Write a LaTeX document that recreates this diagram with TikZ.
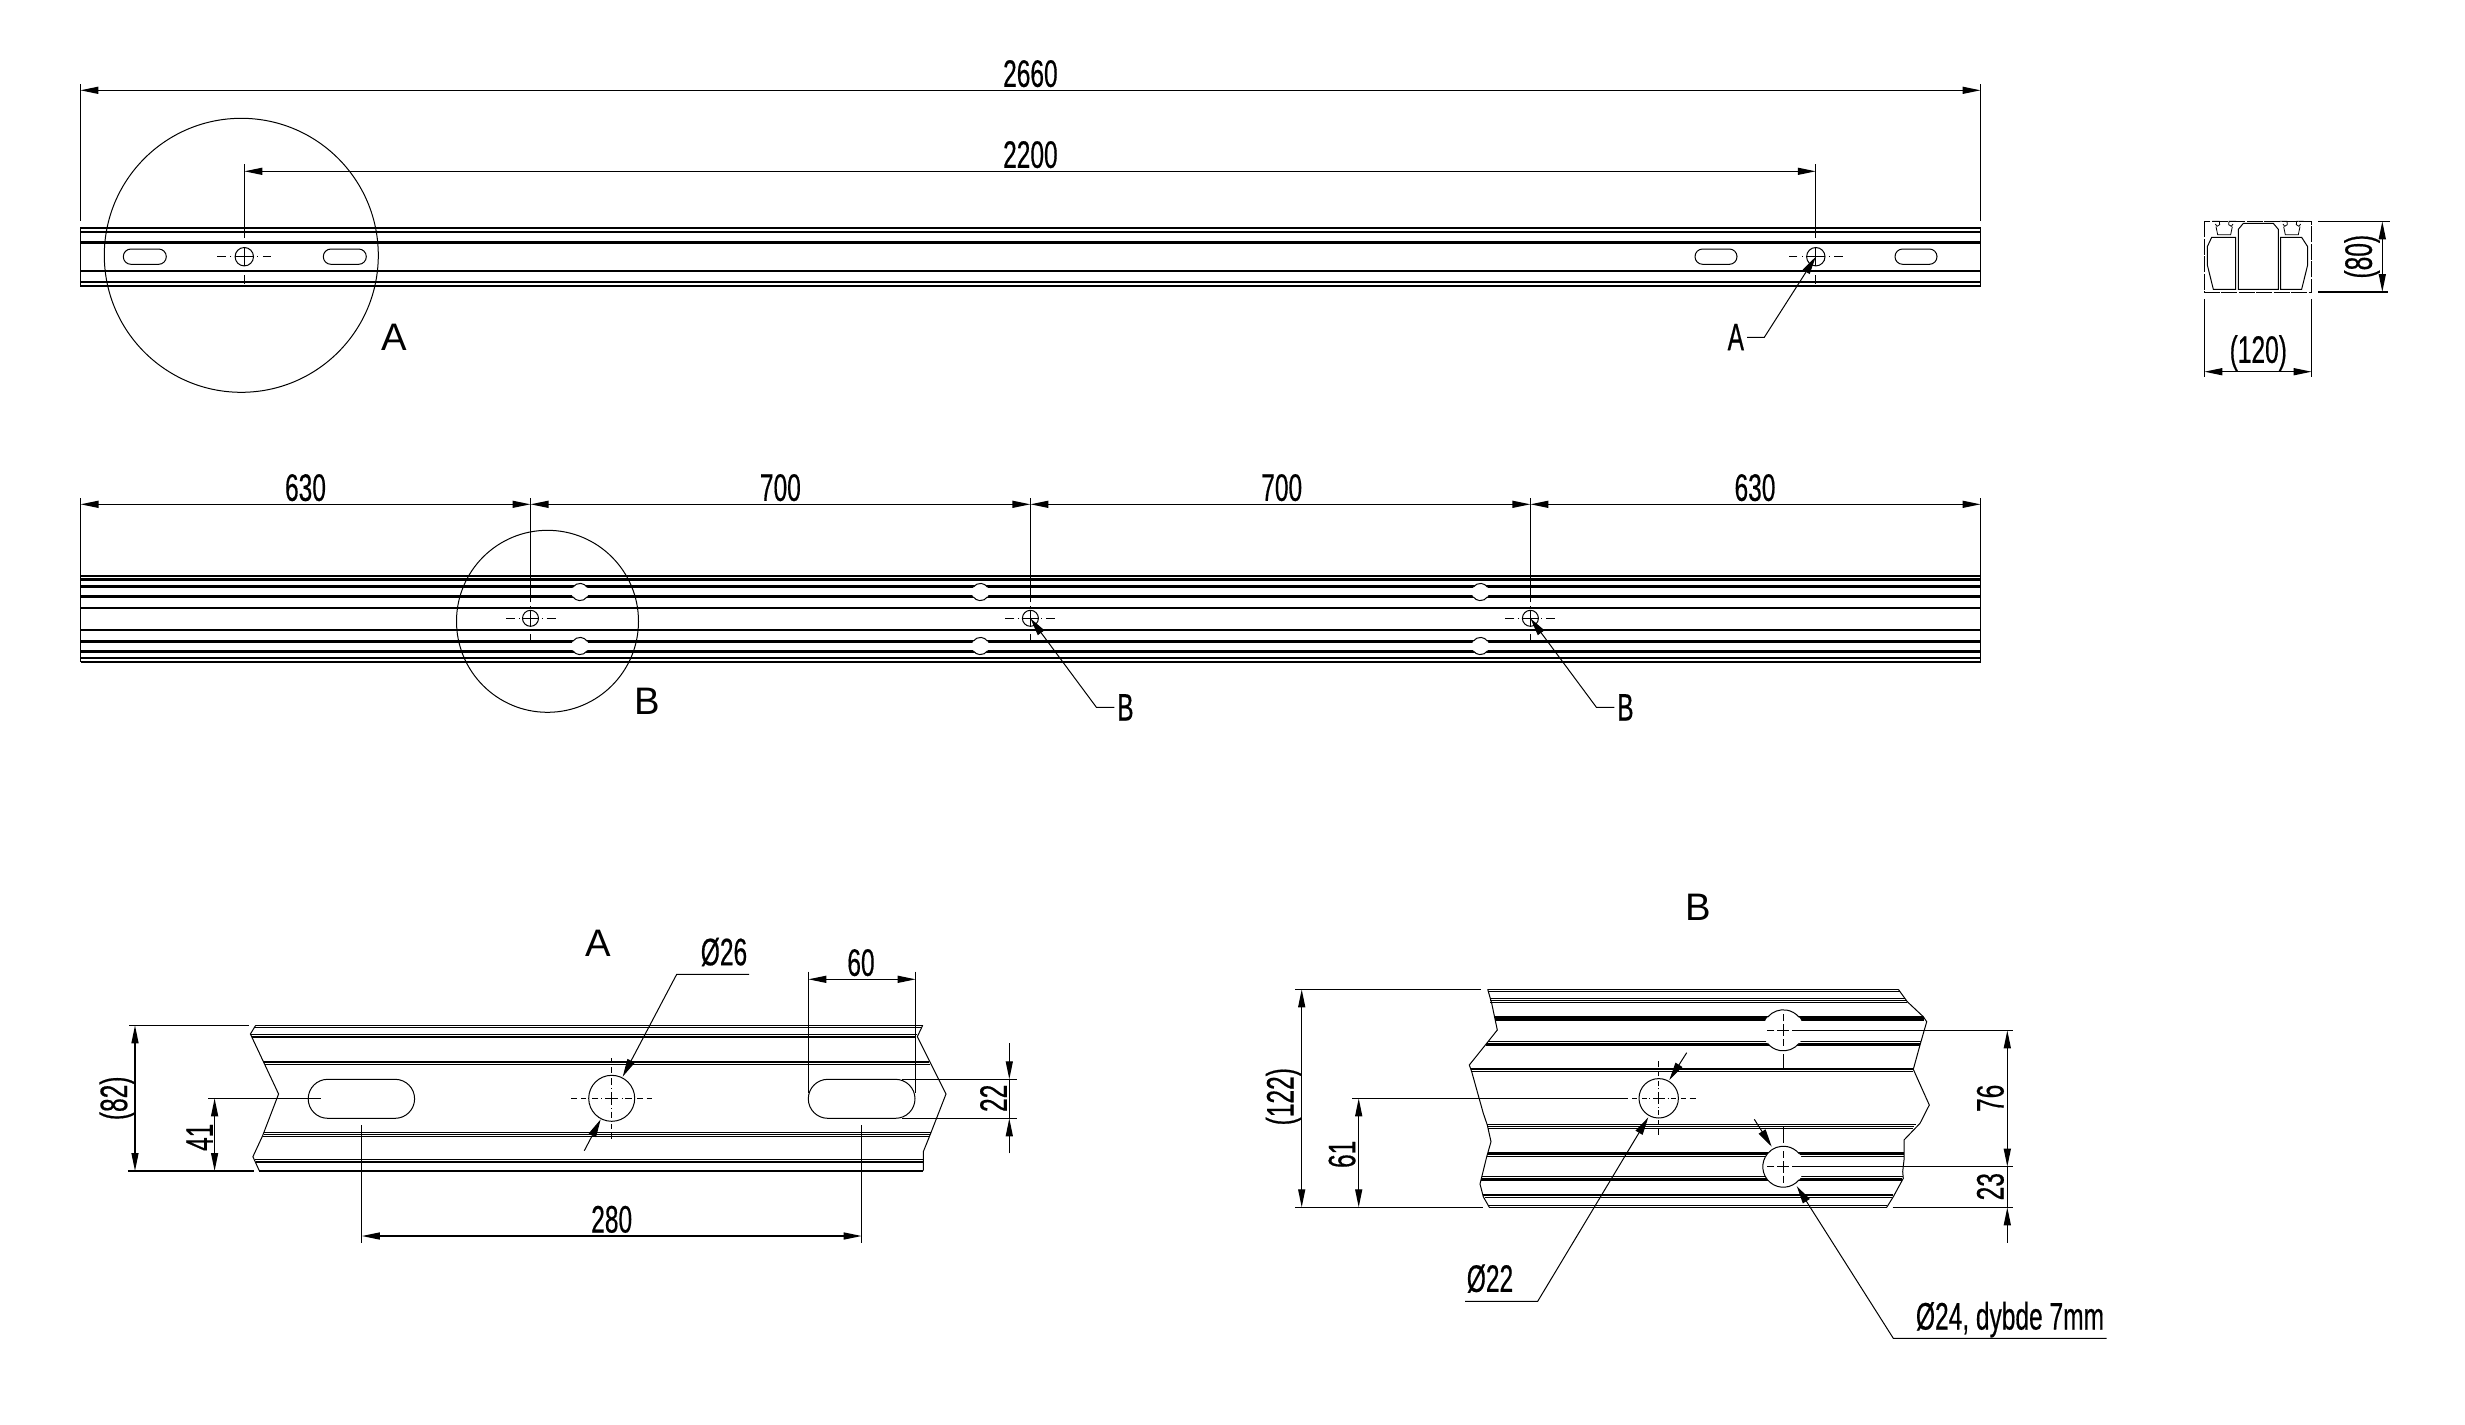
\documentclass[tikz,border=0pt]{standalone}
\usepackage{fontspec}
\usepackage{tikz}
\usetikzlibrary{arrows.meta}
\newfontfamily\dimfamily[FakeStretch=0.64,FakeBold=0.4]{Liberation Sans}
\newfontfamily\viewfamily{Liberation Sans}
\tikzstyle{thinline} = [line width=0.1mm]
\tikzstyle{dimline} = [line width=0.13mm]
\tikzstyle{dimboth} = [dimline, {Triangle[length=1.8mm,width=0.7mm]}-{Triangle[length=1.8mm,width=0.7mm]}]
\tikzstyle{dimone} = [dimline, -{Triangle[length=1.8mm,width=0.7mm]}]
\tikzstyle{leader} = [thinline, -{Triangle[length=1.8mm,width=0.8mm]}]
\tikzstyle{dimtext} = [font=\dimfamily\fontsize{10.9}{13}\selectfont,
					   inner sep=0pt,
					   text height=7.7pt,
					   text depth=0pt,
					  ]
\tikzstyle{viewtext} = [font=\viewfamily\fontsize{10.9}{13}\selectfont,
					    inner sep=0pt,
					    text height=7.7pt,
					    text depth=0pt,
					   ]
% centre lines of a hole: x, y, list of from/to radii
\newcommand{\centermark}[3]{%
  \foreach \ang in {0,90,180,270}
    \foreach \ra/\rb in {#3}
      \draw [thinline, shift={(#1,#2)}] (\ang:\ra) -- (\ang:\rb);
}
\newcommand{\slotline}[5]{%
  \draw [thinline, rounded corners=#5] (#1,#2) rectangle (#3,#4);
}
\begin{document}
\begin{tikzpicture}[x=0.1mm,y=-0.1mm]
\useasboundingbox (0,0) rectangle (2465,1424);

% top view
\foreach \ypos/\wid in {228.3/2.2, 231.7/2.2, 242.3/3, 270.7/2, 281.7/2.2, 285.7/2.2}
  \draw [line width=\wid*0.1mm] (80.3,\ypos) -- (1980.6,\ypos);
\draw [thinline] (80.3,228.3) -- (80.3,285.7);
\draw [thinline] (1980.6,228.3) -- (1980.6,285.7);
\slotline{123.3}{249}{166.3}{264.3}{0.76mm}
\slotline{323.3}{249}{366.3}{264.3}{0.76mm}
\slotline{1695}{249}{1737}{264.3}{0.76mm}
\slotline{1895}{249}{1937}{264.3}{0.76mm}
\draw [thinline] (244.3,256.7) circle (9.2);
\draw [thinline] (1815.8,256.7) circle (9.2);
\centermark{244.3}{256.7}{0/9.2, 13/14, 18.5/27}
\centermark{1815.8}{256.7}{0/9.2, 13/14, 18.5/27}
\draw [thinline] (241.3,255.3) circle (137);
\draw [thinline] (80.3,84) -- (80.3,220.7);
\draw [thinline] (1980.6,84) -- (1980.6,220.7);
\draw [thinline] (244.3,164.3) -- (244.3,238.3);
\draw [thinline] (1815.8,164.3) -- (1815.8,238.3);
\draw [dimboth] (80.3,90.3) -- (1980.6,90.3);
\draw [dimboth] (244.3,171.3) -- (1815.8,171.3);
\node (len) [dimtext] at (1030.4,73.3) {2660};
\node (pitch) [dimtext] at (1030.4,154.3) {2200};
\node (viewA) [viewtext] at (394,336.7) {A};
\node (markA) [dimtext] at (1735.8,336.7) {A};
\coordinate (holeA) at (1815.8,256.7);
\draw [leader] (1747,337.3) -- (1764.3,337.3) -- (holeA);

% end section
\draw [dimline] (2204.3,299.3) -- (2204.3,377.3);
\draw [dimline] (2311.7,299.3) -- (2311.7,377.3);
\draw [dimline] (2318.3,221.3) -- (2390,221.3);
\draw [dimline] (2318.3,292) -- (2388,292);
\draw [dimboth] (2204.3,371.7) -- (2311.7,371.7);
\draw [dimboth] (2382.3,221.3) -- (2382.3,292);
\node (wide) [dimtext] at (2258.3,349.3) {(120)};
\node (high) [dimtext, rotate=90] at (2358.3,256.7) {(80)};
\begin{scope}[shift={(2180,190)},x=0.03333mm,y=-0.03333mm]
\draw [line width=0.07mm, dash pattern=on 1.6mm off 0.15mm] (73,94) rectangle (395,306);
\draw [thinline] (175,298) -- (175,118) -- (190,100) -- (280,100) -- (295,118) -- (295,298) -- cycle;
\draw [thinline] (167,142) -- (95,142) -- (82,170) -- (82,225) -- (100,298) -- (167,298) -- cycle;
\draw [thinline] (302,142) -- (365,142) -- (383,170) -- (383,225) -- (365,298) -- (302,298) -- cycle;
\foreach \off in {0,203} {
  \draw [line width=0.08mm, shift={(\off,0)}] (97,94) -- (118,94) -- (119,104) -- (111,109) -- (106,102);
  \draw [line width=0.08mm, shift={(\off,0)}] (108,110) -- (113,134) -- (152,134) -- (157,110);
  \draw [line width=0.08mm, shift={(\off,0)}] (168,94) -- (147,94) -- (146,104) -- (154,109) -- (159,102);
}
\end{scope}

% side view
\foreach \ypos/\wid in {575.7/2.2, 579.3/2.6, 586.7/2.6, 596.3/2.8, 607.7/2.2, 630/2.2, 641.3/2.8, 651.7/2.8, 658/2.2, 661.7/2.2}
  \draw [line width=\wid*0.1mm] (80.5,\ypos) -- (1980.6,\ypos);
\foreach \xpos in {580,980.4,1480.4}
  \foreach \ypos in {592,646} {
    \fill [white] (\xpos,\ypos) circle (8.6);
    \draw [thinline] (\xpos,\ypos) ++(35:8.6) arc (35:145:8.6);
    \draw [thinline] (\xpos,\ypos) ++(215:8.6) arc (215:325:8.6);
  }
\foreach \xpos in {530.5,1030.4,1530.4} {
  \draw [thinline] (\xpos,618.3) circle (8);
  \centermark{\xpos}{618.3}{0/8, 11/12, 16/25}
  \draw [thinline] (\xpos,498) -- (\xpos,601.7);
}
\draw [thinline] (80.5,498) -- (80.5,661.7);
\draw [thinline] (1980.6,498) -- (1980.6,661.7);
\draw [thinline] (547.5,621.3) circle (91);
\draw [dimboth] (80.5,504.3) -- (530.5,504.3);
\draw [dimboth] (530.5,504.3) -- (1030.4,504.3);
\draw [dimboth] (1030.4,504.3) -- (1530.4,504.3);
\draw [dimboth] (1530.4,504.3) -- (1980.6,504.3);
\node (gapa) [dimtext] at (305.5,487.3) {630};
\node (gapb) [dimtext] at (780.4,487.3) {700};
\node (gapc) [dimtext] at (1281.7,487.3) {700};
\node (gapd) [dimtext] at (1755,487.3) {630};
\node (viewB) [viewtext] at (647,700.7) {B};
\node (markB) [dimtext] at (1125.4,707) {B};
\node (markC) [dimtext] at (1625.4,707) {B};
\coordinate (holeB) at (1030.4,618.3);
\coordinate (holeC) at (1530.4,618.3);
\draw [leader] (1114.3,707.3) -- (1096.4,707.3) -- (holeB);
\draw [leader] (1614.3,707.3) -- (1596.4,707.3) -- (holeC);

% detail A
\foreach \ypos/\xa/\xb/\wid in {1025.3/255.7/922.7/1, 1027.3/254.6/922/1, 1034/250.4/917.3/1, 1036.7/251.8/916/1.8,
    1061.7/264.3/929/2, 1064/265.4/930/1, 1132.3/264.3/930.7/1, 1134.7/263.6/930/1, 1136.7/262.5/929.3/1,
    1159.3/254.6/923.3/1.2, 1162/255.7/923.3/2, 1170.7/259.3/923.3/2}
  \draw [line width=\wid*0.1mm] (\xa,\ypos) -- (\xb,\ypos);
\draw [thinline] (255.7,1025.3) -- (250.4,1034) -- (278.6,1094) -- (262.5,1136) -- (252.9,1156.7) -- (259.3,1170.7);
\draw [thinline] (922.7,1025.3) -- (917.3,1036.7) -- (946,1094) -- (930.7,1133.3) -- (923.3,1151.7) -- (923.3,1170.7);
\slotline{308.2}{1079.3}{414.6}{1118.3}{1.95mm}
\slotline{808.3}{1079.3}{915}{1118.3}{1.95mm}
\draw [thinline] (611.7,1098.3) circle (23);
\centermark{611.7}{1098.3}{0/6.7, 10/10.8, 13.3/20, 25.7/31, 35/40.7}
\draw [dimline] (129,1025.3) -- (249.3,1025.3);
\draw [dimline] (127.9,1171) -- (253.6,1171);
\draw [dimline] (208,1098.3) -- (320.7,1098.3);
\draw [dimline] (361.8,1125) -- (361.8,1242.7);
\draw [dimline] (861.7,1125) -- (861.7,1242.7);
\draw [dimline] (808.3,971.7) -- (808.3,1092.7);
\draw [dimline] (915.7,971.7) -- (915.7,1092.7);
\draw [dimline] (901.7,1079.3) -- (1016.7,1079.3);
\draw [dimline] (901.7,1118.3) -- (1016.7,1118.3);
\draw [dimboth] (135,1025.3) -- (135,1171);
\draw [dimboth] (214.6,1098.3) -- (214.6,1171);
\draw [dimboth] (361.8,1236) -- (861.7,1236);
\draw [dimboth] (808.3,979.3) -- (915.7,979.3);
\draw [dimone] (1009.3,1043.3) -- (1009.3,1079.3);
\draw [dimone] (1009.3,1153.3) -- (1009.3,1118.3);
\draw [dimline] (1009.3,1079.3) -- (1009.3,1118.3);
\node (titleA) [viewtext] at (598.3,942.7) {A};
\node (heightA) [dimtext, rotate=90] at (113.6,1098.3) {(82)};
\node (halfA) [dimtext, rotate=90] at (199.3,1137.3) {41};
\node (slotsA) [dimtext] at (611.7,1219) {280};
\node (slotlen) [dimtext] at (861,962.3) {60};
\node (slotwid) [dimtext, rotate=90] at (993.3,1098.3) {22};
\node (diaA) [dimtext] at (724,951.7) {Ø26};
\coordinate (tipA) at (622.7,1076.7);
\draw [leader] (749,974.3) -- (676.7,974.3) -- (tipA);
\coordinate (tailA) at (584.3,1150.7);
\draw [leader] (tailA) -- (600.7,1119.3);

% detail B
\foreach \ypos/\xa/\xb/\wid in {989.3/1487.7/1898.3/1, 991.7/1488.3/1900/1,
    998.3/1490/1905/1, 1000.7/1490/1906.7/1.3, 1002.7/1490/1907.3/1,
    1016/1495/1922.7/1, 1018.3/1495/1924/2, 1020/1495/1924/2,
    1041/1488.3/1921/1, 1043.3/1486.7/1920/1.5, 1045.3/1486/1920/2,
    1069.3/1471/1912.7/2.2, 1071.7/1472/1913.3/1,
    1124.7/1486.7/1916/1.3, 1126.7/1487/1914/1, 1128.7/1487.7/1913.3/1.3,
    1152/1488.3/1904/1, 1154/1487.7/1904/2, 1156/1486.7/1904/1,
    1176.7/1481.7/1903.3/1, 1178.7/1481/1902/2, 1180.7/1480.7/1901.7/1,
    1195.3/1483.3/1893.3/2, 1197.3/1485/1892.3/1,
    1205.3/1488.3/1886.7/1, 1207.3/1489.3/1886.7/1}
  \draw [line width=\wid*0.1mm] (\xa,\ypos) -- (\xb,\ypos);
\draw [thinline] (1487.7,989.3) -- (1491.7,1003.3) -- (1497.3,1030) -- (1486.7,1043.3) -- (1469.3,1065) -- (1471.7,1071.7) -- (1483.3,1113.3) -- (1487.3,1125) -- (1491,1141.7) -- (1486.7,1156.7) -- (1480,1184) -- (1483.3,1196.7) -- (1489.3,1207.3);
\draw [thinline] (1898.3,989.3) -- (1907.3,1001.7) -- (1923.3,1016.7) -- (1926.7,1021.7) -- (1920,1045) -- (1913.3,1069.3) -- (1929.3,1105) -- (1920,1123.3) -- (1904,1140) -- (1904,1160) -- (1902.7,1171.7) -- (1903.3,1178.3) -- (1893.3,1196.7) -- (1886.7,1207.3);
\fill [white] (1783.3,1030.3) circle (20.5);
\fill [white] (1783.3,1166.7) circle (20.5);
\draw [thinline] (1783.3,1030.3) ++(40:20.5) arc (40:140:20.5);
\draw [thinline] (1783.3,1030.3) ++(220:20.5) arc (220:320:20.5);
\draw [thinline] (1783.3,1166.7) ++(40:20.5) arc (40:320:20.5);
\draw [thinline] (1658.7,1098.3) circle (19.7);
\centermark{1658.7}{1098.3}{0/6, 9/10, 12/17, 22/27, 31/37}
\centermark{1783.3}{1030.3}{0/6, 9/16}
\centermark{1783.3}{1166.7}{0/6, 9/16}
\draw [thinline] (1783.3,1054.3) -- (1783.3,1069.3);
\draw [thinline] (1783.3,1126.7) -- (1783.3,1142.7);
\draw [dimline] (1295.3,989.3) -- (1480.7,989.3);
\draw [dimline] (1295.3,1207.3) -- (1482.7,1207.3);
\draw [dimline] (1352.3,1098.3) -- (1628.3,1098.3);
\draw [dimline] (1795,1030.3) -- (2013.3,1030.3);
\draw [dimline] (1795,1166.7) -- (2013.3,1166.7);
\draw [dimline] (1892.7,1207.3) -- (2013.3,1207.3);
\draw [dimboth] (1301.7,989.3) -- (1301.7,1207.3);
\draw [dimboth] (1358.7,1098.3) -- (1358.7,1207.3);
\draw [dimboth] (2007.3,1030.3) -- (2007.3,1166.7);
\draw [dimline] (2007.3,1166.7) -- (2007.3,1207.3);
\draw [dimone] (2007.3,1242.7) -- (2007.3,1207.3);
\node (titleB) [viewtext] at (1698,907) {B};
\node (heightB) [dimtext, rotate=90] at (1280,1096.7) {(122)};
\node (halfB) [dimtext, rotate=90] at (1341.7,1154.3) {61};
\node (spanB) [dimtext, rotate=90] at (1990,1098.3) {76};
\node (edgeB) [dimtext, rotate=90] at (1990,1186.7) {23};
\node (diaB) [dimtext] at (1490,1278.3) {Ø22};
\node (diaC) [dimtext] at (2010,1316) {Ø24, dybde 7mm};
\coordinate (tipB) at (1648.3,1117.3);
\draw [leader] (1465,1301.3) -- (1537.7,1301.3) -- (tipB);
\coordinate (tailB) at (1686.7,1052.7);
\draw [leader] (tailB) -- (1669.3,1080);
\coordinate (tailC) at (1754.3,1119.3);
\draw [leader] (tailC) -- (1771.7,1146.7);
\coordinate (tipC) at (1796.7,1186);
\draw [leader] (2106.7,1338.3) -- (1893.3,1338.3) -- (tipC);

\end{tikzpicture}
\end{document}
